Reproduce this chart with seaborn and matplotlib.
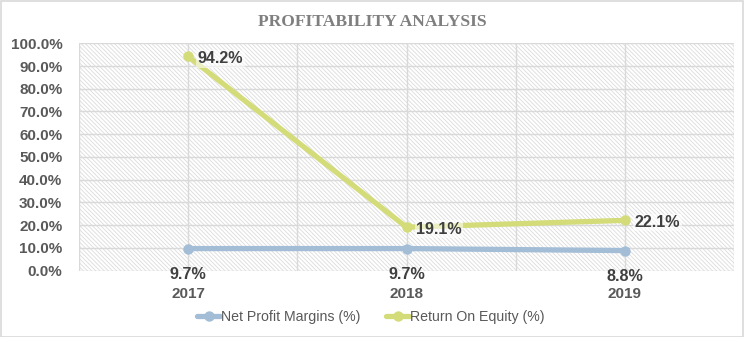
import matplotlib
matplotlib.use("Agg")
import matplotlib.pyplot as plt
import seaborn as sns
import pandas as pd
import numpy as np
from matplotlib.patches import Rectangle
from matplotlib.lines import Line2D
from matplotlib.ticker import PercentFormatter, MultipleLocator

# ---- data ----
years = ["2017", "2018", "2019"]
net_profit_margin = [9.7, 9.7, 8.8]
return_on_equity = [94.2, 19.1, 22.1]
series_names = ["Net Profit Margins (%)", "Return On Equity (%)"]
title = "PROFITABILITY ANALYSIS"

df = pd.DataFrame({
    "year": years * 2,
    "value": net_profit_margin + return_on_equity,
    "series": [series_names[0]] * len(years) + [series_names[1]] * len(years),
})

sns.set_theme(style="white")
plt.rcParams["font.family"] = ["Liberation Sans", "DejaVu Sans"]
plt.rcParams["hatch.linewidth"] = 0.6

colors = {series_names[0]: "#a3bdd6", series_names[1]: "#d3dc78"}
label_color = "#404040"
tick_color = "#595959"
grid_color = "#d9d9d9"

fig = plt.figure(figsize=(7.44, 3.37), dpi=100)
ax = fig.add_axes([79 / 744, 1 - 270.6 / 337, (734 - 79) / 744, (270.6 - 43.3) / 337])

# hatched plot-area background
bg = Rectangle((0, 0), 1, 1, transform=ax.transAxes, facecolor="white",
               edgecolor="#dcdcdc", lw=0, hatch="\\" * 8, zorder=0)
ax.add_patch(bg)

sns.lineplot(data=df, x="year", y="value", hue="series", palette=colors,
             marker="o", markersize=7.5, markeredgewidth=0, linewidth=3.8,
             ax=ax, legend=False, zorder=3)

ax.set_ylim(0, 100)
ax.set_xlim(-0.5, len(years) - 0.5)
ax.yaxis.set_major_locator(MultipleLocator(10))
ax.yaxis.set_major_formatter(PercentFormatter(decimals=1))
ax.set_xticks(range(len(years)))
ax.set_xticklabels(years)
ax.grid(True, axis="y", which="major", color=grid_color, lw=1, zorder=1)
for xv in np.arange(-0.5, len(years), 0.5):
    ax.axvline(xv, color=grid_color, lw=1, zorder=1)
for s in ax.spines.values():
    s.set_visible(False)
ax.set_xlabel("")
ax.set_ylabel("")
ax.tick_params(axis="y", length=0, pad=12, labelsize=11, labelcolor=tick_color)
ax.tick_params(axis="x", which="both", length=0, pad=12, labelsize=11, labelcolor=tick_color)
for t in ax.get_yticklabels() + ax.get_xticklabels():
    t.set_fontweight("bold")

# data labels
for i, v in enumerate(net_profit_margin):
    ax.annotate(f"{v:.1f}%", xy=(i, v), xytext=(0, -18.5), textcoords="offset points",
                ha="center", va="center", fontsize=11.6, fontweight="bold",
                color=label_color, zorder=5)
for i, v in enumerate(return_on_equity):
    ax.annotate(f"{v:.1f}%", xy=(i, v), xytext=(7, -1.5), textcoords="offset points",
                ha="left", va="center", fontsize=11.6, fontweight="bold",
                color=label_color, zorder=5,
                bbox=dict(facecolor="white", alpha=0.55, edgecolor="none", pad=1))

# title
fig.text(0.5, 1 - 22.5 / 337, title, ha="center", va="center",
         fontsize=12.6, fontweight="bold", color="#7f7f7f",
         family=["Liberation Serif", "DejaVu Serif"])

# legend
handles = [Line2D([], [], color=colors[n], lw=3.8, marker="o", markersize=7.5,
                  markeredgewidth=0) for n in series_names]
leg = fig.legend(handles, series_names, loc="center", bbox_to_anchor=(371 / 744, 1 - 317 / 337),
                 ncol=2, frameon=False, handlelength=1.6, handletextpad=0.1,
                 columnspacing=1.8,
                 prop={"family": ["DejaVu Sans Condensed", "Liberation Sans"], "size": 10.2})
for t in leg.get_texts():
    t.set_color(tick_color)

# outer chart border
fig.patches.append(Rectangle((0.5 / 744, 0.5 / 337), 742 / 744, 335.5 / 337,
                             transform=fig.transFigure, fill=False,
                             edgecolor="#d9d9d9", lw=1.2))

fig.savefig("out.png", dpi=100)
